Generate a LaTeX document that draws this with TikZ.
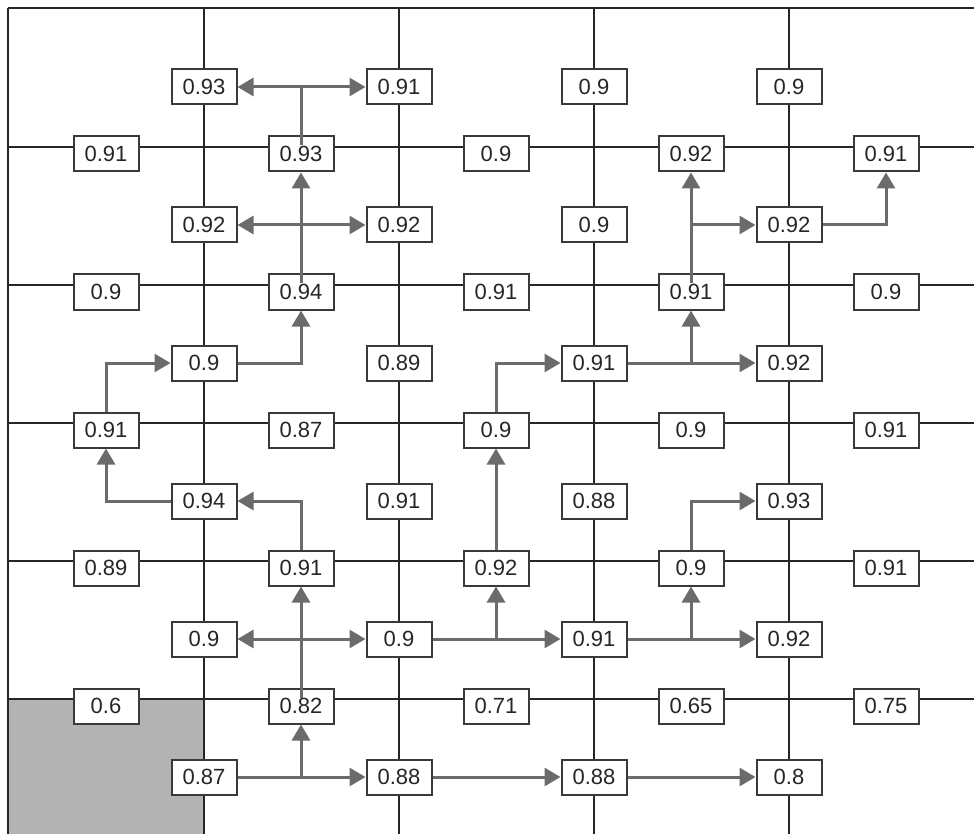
\documentclass[tikz,border=0pt]{standalone}
\usepackage{fontspec}
\setmainfont{Liberation Sans}
\usepackage{tikz}
\usetikzlibrary{arrows.meta,positioning,calc}
\definecolor{gridline}{HTML}{262626}
\definecolor{boxline}{HTML}{3A3A3A}
\definecolor{flowgray}{HTML}{6B6B6B}
\definecolor{blockfill}{HTML}{B3B3B3}

\begin{document}
\begin{tikzpicture}[x=1pt, y=-1pt,
  val/.style={draw=boxline, line width=2pt, fill=white, text=black!85,
              minimum width=65pt, minimum height=35pt, inner sep=0pt,
              font=\fontsize{22}{24}\selectfont},
  gridln/.style={draw=gridline, line width=1.8pt},
  flow/.style={draw=flowgray, line width=3pt,
               -{Triangle[length=16pt,width=18pt]}},
]
  \useasboundingbox (0,0) rectangle (974,834);

  % blocked cell and grid
  \fill[blockfill] (8,699) rectangle (204,834);
  \foreach \x in {8,204,399,594,789}
    \draw[gridln] (\x,8) -- (\x,834);
  \foreach \y in {8,147,285,423,561,699}
    \draw[gridln] (8,\y) -- (974,\y);

  % values on horizontal edges
  \foreach \row [count=\r] in {{0.91,0.93,0.9,0.92,0.91},
                               {0.9,0.94,0.91,0.91,0.9},
                               {0.91,0.87,0.9,0.9,0.91},
                               {0.89,0.91,0.92,0.9,0.91},
                               {0.6,0.82,0.71,0.65,0.75}}
    \foreach \v [count=\c] in \row
      \node[val] (h\r\c) at ({106+195*(\c-1)},{154+138*(\r-1)}) {\v};

  % values on vertical edges
  \foreach \row [count=\r] in {{0.93,0.91,0.9,0.9},
                               {0.92,0.92,0.9,0.92},
                               {0.9,0.89,0.91,0.92},
                               {0.94,0.91,0.88,0.93},
                               {0.9,0.9,0.91,0.92},
                               {0.87,0.88,0.88,0.8}}
    \foreach \v [count=\c] in \row
      \node[val] (v\r\c) at ({204+195*(\c-1)},{87+138*(\r-1)}) {\v};

  % upper left
  \draw[flow] ([yshift=-10pt]h22.north) -- (h12);
  \draw[flow] (h22 |- v21) -- (v21);
  \draw[flow] (h22 |- v22) -- (v22);
  \draw[flow] ([yshift=-10pt]h12.north) -- (h12 |- v11) -- (v11);
  \draw[flow] (h12 |- v12) -- (v12);

  % left
  \draw[flow] (h42) |- (v41);
  \draw[flow] (v41) -| (h31);
  \draw[flow] (h31) |- (v31);
  \draw[flow] (v31) -| (h22);

  % bottom left
  \draw[flow] (v61) -| (h52);
  \draw[flow] (v61) -- (v62);
  \draw[flow] ([yshift=-10pt]h52.north) -- (h42);
  \draw[flow] (h52 |- v51) -- (v51);
  \draw[flow] (h52 |- v52) -- (v52);
  \draw[flow] (v62) -- (v63);
  \draw[flow] (v63) -- (v64);

  % centre
  \draw[flow] (v52) -| (h43);
  \draw[flow] (v52) -- (v53);
  \draw[flow] (h43) -- (h33);
  \draw[flow] (h33) |- (v33);
  \draw[flow] (v33) -| (h24);
  \draw[flow] (v33) -- (v34);
  \draw[flow] ([yshift=-10pt]h24.north) -- (h14);
  \draw[flow] (h24 |- v24) -- (v24);
  \draw[flow] (v24) -| (h15);

  % right
  \draw[flow] (v53) -| (h44);
  \draw[flow] (v53) -- (v54);
  \draw[flow] (h44) |- (v44);
\end{tikzpicture}
\end{document}
